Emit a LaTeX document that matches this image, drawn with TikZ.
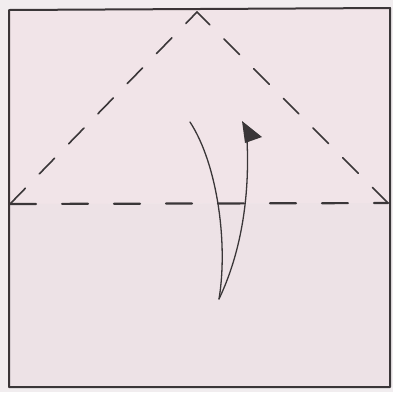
\documentclass[tikz,border=0pt]{standalone}
\begin{document}
\begin{tikzpicture}[x=1pt,y=-1pt,line cap=round,line join=round]
\definecolor{bgout}{HTML}{F1EDEF}
\definecolor{paperup}{HTML}{F1E4E8}
\definecolor{paperlo}{HTML}{EDE2E6}
\definecolor{ink}{HTML}{3A3638}
\tikzset{fold/.style={ink,line width=2.2pt,dash pattern=on 26pt off 26pt},
         valley/.style={ink,line width=1.6pt,dash pattern=on 22pt off 20pt},
         edge/.style={ink,line width=2pt},
         arr/.style={ink,line width=1.3pt}}
\useasboundingbox (0,0) rectangle (393,392);
\fill[bgout] (0,0) rectangle (393,392);
\coordinate (tl) at (9,10);
\coordinate (tr) at (390,8);
\coordinate (br) at (390,387);
\coordinate (bl) at (9,387);
\coordinate (ml) at (10,204);
\coordinate (mr) at (388,203);
\coordinate (apex) at (197,12);
\fill[paperup] (tl) -- (tr) -- (390,203) -- (9,204) -- cycle;
\fill[paperlo] (9,204) -- (390,203) -- (br) -- (bl) -- cycle;
\draw[edge] (tl) -- (tr) -- (br) -- (bl) -- cycle;
\draw[fold] (ml) -- (mr);
\draw[valley] (ml) -- (apex);
\draw[valley] (mr) -- (apex);
\coordinate (a0) at (190,122);
\coordinate (a1) at (219,299);
\coordinate (a2) at (247,140);
\draw[arr] (a0) .. controls (218,165) and (228,245) .. (a1);
\draw[arr] (a1) .. controls (240,255) and (250,200) .. (a2);
\fill[ink] (242,121) -- (262,137) -- (245,143) -- cycle;
\end{tikzpicture}
\end{document}
